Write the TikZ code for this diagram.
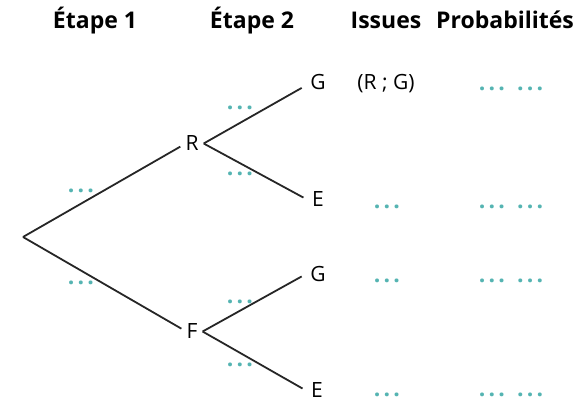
\documentclass[tikz,border=0pt]{standalone}
\usepackage{fontspec}
\setmainfont{Open Sans}
\newfontfamily\dotfont[LetterSpace=14]{Open Sans}
\definecolor{dotcol}{RGB}{85,180,178}
\begin{document}
\begin{tikzpicture}[x=1pt,y=-1pt,
  head/.style={font=\fontsize{23}{25}\selectfont\bfseries, anchor=base},
  lab/.style={font=\fontsize{21}{23}\selectfont, inner ysep=1pt, inner xsep=5pt, anchor=base},
  dts/.style={font=\dotfont\fontsize{23}{24}\selectfont\bfseries, text=dotcol, anchor=base, inner sep=0pt},
  br/.style={line width=1.8pt, draw=black!85},
  br2/.style={br, shorten >=4pt}]
\useasboundingbox (0,0) rectangle (584,403);
\node[head] (h1) at (95,29) {Étape 1};
\node[head] (h2) at (252,29) {Étape 2};
\node[head] (h3) at (386,29) {Issues};
\node[head] (h4) at (505,29) {Probabilités};
\coordinate (root) at (23,237);
\node[lab] (R) at (192,151) {R};
\node[lab] (F) at (192,339) {F};
\node[lab] (G1) at (318,90) {G};
\node[lab] (E1) at (318,207) {E};
\node[lab] (G2) at (318,282) {G};
\node[lab] (E2) at (317,398) {E};
\draw[br] (root) -- (R.195);
\draw[br] (root) -- (F.165);
\draw[br2] (R.east) -- (G1.195);
\draw[br2] (R.east) -- (E1.west);
\draw[br2] (F.east) -- (G2.west);
\draw[br2] (F.east) -- (E2.west);
\node[dts] (d1) at (81,193) {...};
\node[dts] (d2) at (81,285) {...};
\node[dts] (d3) at (240,110) {...};
\node[dts] (d4) at (240,176) {...};
\node[dts] (d5) at (240,304) {...};
\node[dts] (d6) at (240,367) {...};
\node[lab] (i1) at (386,90) {(R ; G)};
\node[dts] (i2) at (387,209) {...};
\node[dts] (i3) at (387,283) {...};
\node[dts] (i4) at (387,397) {...};
\node[dts] (p1) at (511,91) {... ...};
\node[dts] (p2) at (511,209) {... ...};
\node[dts] (p3) at (511,283) {... ...};
\node[dts] (p4) at (511,397) {... ...};
\end{tikzpicture}
\end{document}
